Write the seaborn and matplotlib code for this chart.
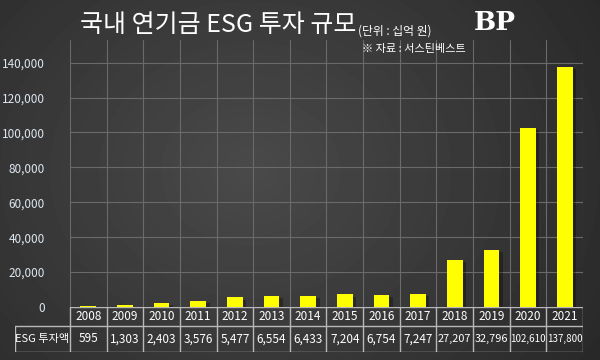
import numpy as np
import pandas as pd
import matplotlib
matplotlib.use("Agg")
import matplotlib.pyplot as plt
import matplotlib.patheffects as pe
import seaborn as sns

# data
years = ['2008', '2009', '2010', '2011', '2012', '2013', '2014',
         '2015', '2016', '2017', '2018', '2019', '2020', '2021']
esg_invest = [595, 1303, 2403, 3576, 5477, 6554, 6433,
              7204, 6754, 7247, 27207, 32796, 102610, 137800]
y_ticks = [0, 20000, 40000, 60000, 80000, 100000, 120000, 140000]

sns.set_style("dark")
plt.rcParams['font.family'] = ['Noto Sans CJK KR', 'DejaVu Sans']

W, H = 600, 360
fig = plt.figure(figsize=(W / 100, H / 100), dpi=100)

# radial gradient background
bg = fig.add_axes([0, 0, 1, 1])
yy, xx = np.mgrid[0:H, 0:W]
r = np.sqrt(((xx - 250) / 380) ** 2 + ((yy - 170) / 320) ** 2)
shade = np.clip(0.29 - 0.12 * r, 0.16, 0.29)
bg.imshow(shade, cmap='gray', vmin=0, vmax=1, aspect='auto',
          extent=[0, W, H, 0])
bg.set_axis_off()


def px_axes(x0, y0, x1, y1):
    return fig.add_axes([x0 / W, 1 - y1 / H, (x1 - x0) / W, (y1 - y0) / H])


# main bar chart
ax = px_axes(70, 40, 583, 307)
ax.patch.set_alpha(0)
df = pd.DataFrame({'year': years, 'value': esg_invest})
sns.barplot(data=df, x='year', y='value', color='#ffff00', width=0.43,
            saturation=1, linewidth=0, ax=ax, zorder=3)
for bar in ax.patches:
    bar.set_linewidth(0)
    bar.set_path_effects([pe.SimplePatchShadow(offset=(2.5, -1.5),
                                               shadow_rgbFace='black',
                                               alpha=0.3),
                          pe.Normal()])
ax.set_xlim(-0.5, len(years) - 0.5)
ax.set_ylim(0, 153000)
ax.set_yticks(y_ticks)
ax.set_yticklabels([f'{t:,}' for t in y_ticks], color='#dde6ee', fontsize=8.5)
ax.tick_params(axis='y', length=0, pad=18)
ax.set_xticks(np.arange(len(years) + 1) - 0.5, minor=True)
ax.set_xticks([])
ax.tick_params(axis='x', which='minor', length=0)
ax.grid(False)
ax.grid(axis='y', color='#6a6a6a', linewidth=0.8)
ax.grid(axis='x', which='minor', color='#6a6a6a', linewidth=0.8)
ax.set_axisbelow(True)
for s in ax.spines.values():
    s.set_visible(False)
ax.set_xlabel('')
ax.set_ylabel('')

# data table below the chart
tab = px_axes(15, 307, 583, 352)
tab.set_axis_off()
tab.set_xlim(-2.0, len(years) - 0.5)
tab.set_ylim(0, 45)
lc = '#b8b8b8'
n = len(years)
tab.plot([-0.5, n - 0.5], [45, 45], color=lc, lw=1)
tab.plot([-2.0, n - 0.5], [26, 26], color=lc, lw=1)
tab.plot([-2.0, n - 0.5], [0.5, 0.5], color=lc, lw=1)
tab.plot([-2.0, -2.0], [0.5, 26], color=lc, lw=1)
for k in range(n + 1):
    tab.plot([k - 0.5, k - 0.5], [0.5, 45], color=lc, lw=1)
for i, (yr, v) in enumerate(zip(years, esg_invest)):
    tab.text(i, 35.5, yr, ha='center', va='center', color='white', fontsize=8.5)
    tab.text(i, 13, f'{v:,}', ha='center', va='center', color='white',
             fontsize=8.5 if v < 10000 else (7.9 if v < 100000 else 7.0))
tab.text(-1.25, 13, 'ESG 투자액', ha='center', va='center', color='white',
         fontsize=8)

# titles
title = fig.text(80 / W, 1 - 25 / H, '국내 연기금 ESG 투자 규모', color='white',
                 fontsize=18, va='center', ha='left')
fig.canvas.draw()
tb = title.get_window_extent()
fig.text(tb.x1 / W + 0.002, 1 - 31 / H, '(단위 : 십억 원)', color='white',
         fontsize=8.5, va='center', ha='left')
fig.text(362 / W, 1 - 49 / H, '※ 자료 : 서스틴베스트', color='white',
         fontsize=8, va='center', ha='left')
fig.text(495 / W, 1 - 22 / H, 'BP', color='white', fontsize=19,
         fontweight='bold', family=['DejaVu Serif'], va='center', ha='center')

fig.savefig('out.png', dpi=100)
